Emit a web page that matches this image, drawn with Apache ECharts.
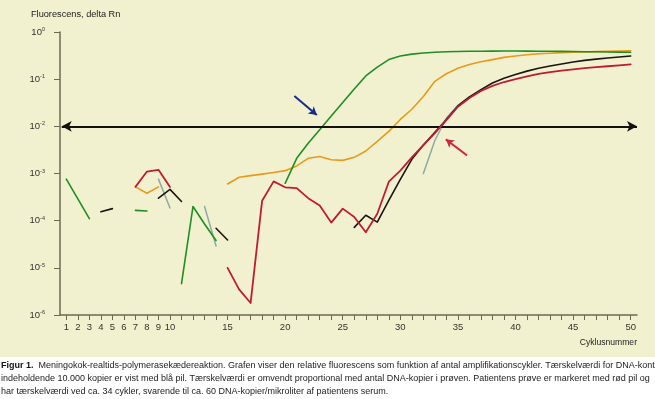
<!DOCTYPE html>
<html>
<head>
<meta charset="utf-8">
<script src="https://cdn.jsdelivr.net/npm/echarts@6/dist/echarts.min.js"></script>
<style>
  html, body { margin: 0; padding: 0; background: #ffffff; overflow: hidden; }
  #chart { width: 655px; height: 399px; background: linear-gradient(#f1f1cf 0px, #f1f1cf 357px, #ffffff 357px); }
</style>
</head>
<body>
<div id="chart"></div>
<script>
// Cycle numbers (x)
var cycles = [1,2,3,4,5,6,7,8,9,10,11,12,13,14,15,16,17,18,19,20,21,22,23,24,25,26,27,28,29,30,31,32,33,34,35,36,37,38,39,40,41,42,43,44,45,46,47,48,49,50];
// X tick positions and labelled ticks
var xTicks = cycles;
var xLabels = [1,2,3,4,5,6,7,8,9,10,15,20,25,30,35,40,45,50];
// Y decades
var yTicks = [1e-6,1e-5,1e-4,1e-3,1e-2,1e-1,1];
var threshold = 0.01;

// Fluorescence (delta Rn) per cycle, null = no curve
var green = [7.6e-4,2.9e-4,1.1e-4,null,null,null,1.65e-4,1.6e-4,null,null,
  4.6e-6,2.0e-4,8.5e-5,3.8e-5,null,null,null,null,null,6.2e-4,
  2.1e-3,4.4e-3,8.5e-3,1.65e-2,3.2e-2,6.2e-2,0.117,0.18,0.26,0.31,
  0.34,0.36,0.372,0.38,0.385,0.39,0.392,0.394,0.395,0.395,
  0.394,0.392,0.39,0.388,0.385,0.382,0.38,0.377,0.375,0.372];
var orange = [null,null,null,null,null,null,5.2e-4,3.8e-4,5.2e-4,null,
  null,null,null,null,6.0e-4,8.3e-4,9.0e-4,9.7e-4,1.05e-3,1.15e-3,
  1.45e-3,2.1e-3,2.3e-3,1.95e-3,1.9e-3,2.2e-3,3.0e-3,4.8e-3,7.8e-3,1.4e-2,
  2.3e-2,4.3e-2,9.0e-2,0.13,0.17,0.205,0.235,0.26,0.29,0.31,
  0.33,0.345,0.355,0.365,0.372,0.378,0.384,0.39,0.395,0.40];
var red = [null,null,null,null,null,null,5.2e-4,1.1e-3,1.2e-3,5.2e-4,
  null,null,null,null,1.0e-5,3.5e-6,1.8e-6,2.65e-4,6.8e-4,5.1e-4,
  4.9e-4,3.0e-4,2.1e-4,9.1e-5,1.8e-4,1.2e-4,5.7e-5,1.4e-4,6.7e-4,1.15e-3,
  2.2e-3,4.0e-3,7.2e-3,1.35e-2,2.6e-2,4.0e-2,0.056,0.072,0.087,0.10,
  0.115,0.13,0.141,0.151,0.161,0.171,0.18,0.188,0.197,0.206];
var black = [null,null,null,1.55e-4,1.8e-4,null,null,null,3.0e-4,4.6e-4,
  2.55e-4,null,null,6.9e-5,3.9e-5,null,null,null,null,null,
  null,null,null,null,null,7.2e-5,1.3e-4,9.3e-5,2.7e-4,7.5e-4,
  2.0e-3,4.0e-3,7.5e-3,1.4e-2,2.7e-2,4.2e-2,0.060,0.083,0.105,0.126,
  0.148,0.17,0.19,0.21,0.232,0.25,0.266,0.281,0.296,0.31];
var gray = [null,null,null,null,null,null,null,null,7.6e-4,1.85e-4,
  null,null,2.0e-4,2.9e-5,null,null,null,null,null,null,
  null,null,null,null,null,null,null,null,null,null,
  null,1.0e-3,5.0e-3,1.5e-2,2.8e-2,4.2e-2,null,null,null,null,
  null,null,null,null,null,null,null,null,null,null];

// Annotation arrows [cycle, value]
var blueArrow = [[20.8, 0.044], [22.75, 0.0174]];
var redArrow = [[35.8, 2.4e-3], [33.95, 5.3e-3]];

function pairs(arr) {
  return cycles.map(function (c, i) { return [c, arr[i] === null ? null : arr[i]]; });
}

var captionLines = [
  '{b|Figur 1.}  Meningokok-realtids-polymerasekædereaktion. Grafen viser den relative fluorescens som funktion af antal amplifikationscykler. Tærskelværdi for DNA-kontrol',
  'indeholdende 10.000 kopier er vist med blå pil. Tærskelværdi er omvendt proportional med antal DNA-kopier i prøven. Patientens prøve er markeret med rød pil og',
  'har tærskelværdi ved ca. 34 cykler, svarende til ca. 60 DNA-kopier/mikroliter af patientens serum.'
];

var FONT = "'Liberation Sans', Arial, sans-serif";
var axisColor = '#6a6a52';

function lineSeries(name, arr, color, width, z) {
  return {
    name: name, type: 'line', data: pairs(arr), showSymbol: false, symbol: 'none',
    connectNulls: false, z: z, animation: false,
    lineStyle: { color: color, width: width, join: 'round', cap: 'round' }
  };
}

var chart = echarts.init(document.getElementById('chart'), null, { renderer: 'canvas' });
chart.setOption({
  backgroundColor: 'transparent',
  animation: false,
  grid: { left: 60, right: 18, top: 32, bottom: 84 },
  xAxis: {
    type: 'value', min: 0.45, max: 50.55,
    splitLine: { show: false },
    axisLine: { show: true, lineStyle: { color: axisColor, width: 1.5 } },
    axisTick: { show: true, customValues: xTicks, length: 5, inside: false, lineStyle: { color: axisColor, width: 1 } },
    axisLabel: { show: true, customValues: xLabels, margin: 7, color: '#333', fontSize: 9.5, fontFamily: FONT }
  },
  yAxis: {
    type: 'log', logBase: 10, min: 1e-6, max: 1,
    splitLine: { show: false },
    axisLine: { show: true, lineStyle: { color: axisColor, width: 1.5 } },
    axisTick: { show: true, customValues: yTicks, length: 6, lineStyle: { color: axisColor, width: 1 } },
    axisLabel: {
      show: true, customValues: yTicks, margin: 15, color: '#333', fontSize: 9.5, fontFamily: FONT,
      formatter: function (v) {
        var e = Math.round(Math.log(v) / Math.LN10);
        return '10{s|' + e + '}';
      },
      rich: { s: { fontSize: 5.5, verticalAlign: 'top', color: '#333', fontFamily: FONT, padding: [0, 0, 5, 0] } }
    }
  },
  series: [
    lineSeries('gray', gray, '#8ea9a6', 1.5, 2),
    lineSeries('orange', orange, '#e79a1c', 1.6, 3),
    lineSeries('green', green, '#1f8f24', 1.6, 4),
    lineSeries('black', black, '#1b1414', 1.6, 5),
    lineSeries('red', red, '#c01c30', 1.8, 6),
    {
      name: 'annot', type: 'line', data: [], z: 10, animation: false,
      markLine: {
        silent: true, animation: false, label: { show: false },
        data: [
          [{ coord: [0.6, threshold], symbol: 'arrow', symbolSize: [8, 10], lineStyle: { color: '#111', width: 2, type: 'solid' } },
           { coord: [50.55, threshold], symbol: 'arrow', symbolSize: [8, 10] }],
          [{ coord: blueArrow[0], symbol: 'none', lineStyle: { color: '#1c2a8a', width: 2, type: 'solid' } },
           { coord: blueArrow[1], symbol: 'arrow', symbolSize: [7, 8] }],
          [{ coord: redArrow[0], symbol: 'none', lineStyle: { color: '#d02a3a', width: 2, type: 'solid' } },
           { coord: redArrow[1], symbol: 'arrow', symbolSize: [7, 8] }]
        ]
      }
    }
  ],
  graphic: [
    { type: 'text', left: 31, top: 10, style: { text: 'Fluorescens, delta Rn', fill: '#222', fontSize: 9.2, fontFamily: FONT } },
    { type: 'text', right: 18, top: 338, style: { text: 'Cyklusnummer', fill: '#222', fontSize: 8.6, fontFamily: FONT } },
    { type: 'text', left: 1, top: 359, style: {
        text: captionLines.join('\n'), fill: '#222', fontSize: 9, fontFamily: FONT, lineHeight: 13,
        rich: { b: { fontWeight: 'bold', fill: '#111', fontSize: 9, fontFamily: FONT, lineHeight: 13 } }
      } }
  ]
});
</script>
</body>
</html>
